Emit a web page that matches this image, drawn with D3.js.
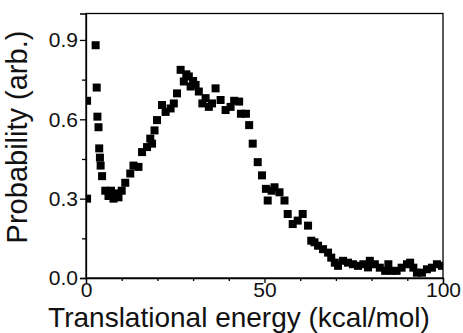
<!DOCTYPE html>
<html>
<head>
<meta charset="utf-8">
<script src="https://cdn.jsdelivr.net/npm/d3@7"></script>
<style>
  body { margin: 0; background: #fff; }
  svg { display: block; font-family: "Liberation Sans", Arial, sans-serif; }
</style>
</head>
<body>
<div id="chart"></div>
<script>
// translational energy (kcal/mol)
const energy = [
  0.3, 0.3, 2.7, 3.0, 3.2, 3.5, 3.7, 3.9, 4.1, 4.5,
  5.4, 6.3, 7.0, 7.7, 8.4, 9.1, 10.0, 11.0, 12.4, 13.3,
  14.7, 15.7, 17.1, 18.0, 18.5, 19.2, 19.9, 21.3, 22.3, 23.7,
  24.6, 25.5, 26.5, 27.4, 28.1, 28.8, 29.3, 30.0, 30.7, 31.6,
  32.6, 33.5, 34.4, 35.3, 36.3, 37.7, 39.1, 40.5, 41.5, 42.9,
  43.4, 44.8, 45.7, 46.7, 48.1, 49.3, 50.4, 50.9, 52.0, 52.8,
  54.2, 55.6, 56.5, 57.9, 59.3, 60.7, 62.2, 63.1, 64.0, 65.0,
  66.4, 67.8, 68.7, 69.7, 70.6, 72.0, 73.4, 74.8, 76.2, 77.7,
  79.0, 79.5, 80.9, 82.3, 83.8, 84.7, 85.6, 87.0, 88.4, 89.9,
  90.8, 91.7, 92.7, 94.1, 95.5, 96.9, 98.3, 99.7
];
// probability (arb.)
const probability = [
  0.30, 0.67, 0.88, 0.72, 0.61, 0.57, 0.49, 0.455, 0.425, 0.385,
  0.33, 0.31, 0.33, 0.30, 0.32, 0.305, 0.33, 0.36, 0.395, 0.425,
  0.42, 0.476, 0.495, 0.527, 0.508, 0.558, 0.597, 0.654, 0.628, 0.641,
  0.66, 0.698, 0.787, 0.743, 0.77, 0.762, 0.724, 0.745, 0.73, 0.705,
  0.66, 0.68, 0.647, 0.66, 0.717, 0.673, 0.635, 0.647, 0.67, 0.667,
  0.621, 0.621, 0.578, 0.508, 0.438, 0.388, 0.337, 0.293, 0.33, 0.343,
  0.324, 0.293, 0.242, 0.204, 0.217, 0.242, 0.198, 0.141, 0.135, 0.122,
  0.109, 0.096, 0.077, 0.058, 0.046, 0.065, 0.058, 0.052, 0.046, 0.052,
  0.04, 0.065, 0.052, 0.039, 0.027, 0.052, 0.027, 0.027, 0.039, 0.052,
  0.058, 0.039, 0.02, 0.02, 0.033, 0.039, 0.052, 0.046
];
const xTicks = [0, 50, 100];
const xMinorTicks = [10, 20, 30, 40, 60, 70, 80, 90];
const yTicks = [0.0, 0.3, 0.6, 0.9];
const yMinorTicks = [0.15, 0.45, 0.75];

const width = 463, height = 333;
const margin = { top: 13.5, right: 20, bottom: 55, left: 86 };
const innerW = width - margin.left - margin.right;
const innerH = height - margin.top - margin.bottom;

const svg = d3.select('#chart')
  .append('svg')
  .attr('width', width)
  .attr('height', height);

const g = svg.append('g')
  .attr('transform', `translate(${margin.left},${margin.top})`);

const x = d3.scaleLinear().domain([0, 100]).range([0, innerW]);
const y = d3.scaleLinear().domain([0, 1.0]).range([innerH, 0]);

// clip so edge points are cut by the frame
g.append('clipPath').attr('id', 'clip')
  .append('rect').attr('width', innerW).attr('height', innerH);

const data = energy.map((e, i) => ({ e, p: probability[i] }));
const size = 8;

g.append('g')
  .attr('clip-path', 'url(#clip)')
  .selectAll('rect')
  .data(data)
  .enter()
  .append('rect')
  .attr('x', d => x(d.e) - size / 2)
  .attr('y', d => y(d.p) - size / 2)
  .attr('width', size)
  .attr('height', size)
  .attr('fill', '#000');

// frame
g.append('rect')
  .attr('width', innerW)
  .attr('height', innerH)
  .attr('fill', 'none')
  .attr('stroke', '#000')
  .attr('stroke-width', 1.3);

// x axis
g.append('g')
  .attr('transform', `translate(0,${innerH})`)
  .call(d3.axisBottom(x).tickValues(xTicks).tickFormat(d3.format('d')).tickSize(5).tickPadding(-1));
g.append('g')
  .attr('transform', `translate(0,${innerH})`)
  .call(d3.axisBottom(x).tickValues(xMinorTicks).tickFormat('').tickSize(3))
  .call(s => s.select('.domain').remove());

// y axis
g.append('g')
  .call(d3.axisLeft(y).tickValues(yTicks).tickFormat(d3.format('.1f')).tickSize(6).tickPadding(2));
g.append('g')
  .call(d3.axisLeft(y).tickValues(yMinorTicks).tickFormat('').tickSize(4))
  .call(s => s.select('.domain').remove());

g.selectAll('.domain').attr('stroke-width', 1.3);
g.selectAll('.tick line').attr('stroke-width', 1.3);
g.selectAll('.tick text')
  .attr('font-size', 21)
  .attr('fill', '#111');

// axis titles
svg.append('text')
  .attr('x', 239)
  .attr('y', 327)
  .attr('text-anchor', 'middle')
  .attr('font-size', 28)
  .attr('fill', '#111')
  .text('Translational energy (kcal/mol)');

svg.append('text')
  .attr('transform', `translate(27,137) rotate(-90)`)
  .attr('text-anchor', 'middle')
  .attr('font-size', 29)
  .attr('fill', '#111')
  .text('Probability (arb.)');
</script>
</body>
</html>
